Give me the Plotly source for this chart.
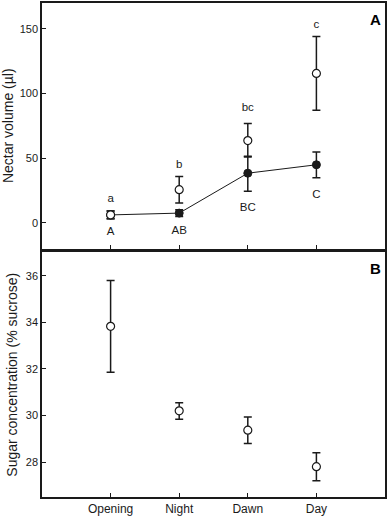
import plotly.graph_objects as go

categories = ["Opening", "Night", "Dawn", "Day"]

# Panel A: nectar volume (µl)
open_vol = [6.0, 25.5, 63.5, 115.5]
open_vol_err_up = [3.0, 10.3, 13.3, 28.5]
open_vol_err_dn = [3.0, 10.2, 12.7, 28.5]
filled_vol = [6.0, 7.4, 38.3, 44.8]
filled_vol_err_up = [3.0, 2.6, 13.2, 9.8]
filled_vol_err_dn = [3.0, 2.6, 14.0, 10.0]
lower_letters = ["a", "b", "bc", "c"]
lower_letter_y = [18, 44.6, 88.6, 153]
upper_letters = ["A", "AB", "BC", "C"]
upper_letter_y = [-7, -6.5, 11.2, 21]

# Panel B: sugar concentration (% sucrose)
sugar = [33.83, 30.2, 29.37, 27.8]
sugar_err_up = [1.97, 0.35, 0.56, 0.6]
sugar_err_dn = [1.97, 0.36, 0.57, 0.6]

FONT = "Liberation Sans, Arial, sans-serif"
INK = "#1a1a1a"

fig = go.Figure()

err_style = dict(type="data", symmetric=False, color=INK, thickness=1.5, width=4)

fig.add_trace(go.Scatter(
    x=categories, y=filled_vol, mode="lines+markers",
    line=dict(color=INK, width=1),
    marker=dict(symbol="circle", size=8, color=INK, line=dict(color=INK, width=1)),
    error_y=dict(array=filled_vol_err_up, arrayminus=filled_vol_err_dn, **err_style),
    xaxis="x", yaxis="y", showlegend=False, hoverinfo="skip"))

fig.add_trace(go.Scatter(
    x=categories, y=open_vol, mode="markers",
    marker=dict(symbol="circle", size=8, color="white", line=dict(color=INK, width=1.2)),
    error_y=dict(array=open_vol_err_up, arrayminus=open_vol_err_dn, **err_style),
    xaxis="x", yaxis="y", showlegend=False, hoverinfo="skip"))

fig.add_trace(go.Scatter(
    x=categories, y=lower_letter_y, mode="text", text=lower_letters,
    textfont=dict(family=FONT, size=11.5, color=INK),
    xaxis="x", yaxis="y", showlegend=False, hoverinfo="skip"))
fig.add_trace(go.Scatter(
    x=categories, y=upper_letter_y, mode="text", text=upper_letters,
    textfont=dict(family=FONT, size=11.5, color=INK),
    xaxis="x", yaxis="y", showlegend=False, hoverinfo="skip"))

fig.add_trace(go.Scatter(
    x=categories, y=sugar, mode="markers",
    marker=dict(symbol="circle", size=8, color="white", line=dict(color=INK, width=1.2)),
    error_y=dict(array=sugar_err_up, arrayminus=sugar_err_dn, **err_style),
    xaxis="x2", yaxis="y2", showlegend=False, hoverinfo="skip"))

axis_common = dict(showline=True, linecolor=INK, linewidth=1.5, mirror=True,
                   ticks="inside", ticklen=4, tickcolor=INK, tickwidth=1,
                   showgrid=False, zeroline=False)
ytick_font = dict(family=FONT, size=11, color=INK)
xtick_font = dict(family=FONT, size=12, color=INK)
title_font = dict(family=FONT, size=14, color=INK)

fig.update_layout(
    width=388, height=517,
    margin=dict(l=42, r=1, t=1, b=17),
    paper_bgcolor="white", plot_bgcolor="white",
    xaxis=dict(domain=[0, 1], anchor="y", type="category", range=[-1, 4],
               showticklabels=False, categoryorder="array", categoryarray=categories,
               tickfont=xtick_font, **axis_common),
    yaxis=dict(domain=[0.503, 1], anchor="x", range=[-20, 170],
               tickvals=[0, 50, 100, 150], tickfont=ytick_font,
               title=dict(text="Nectar volume (µl)", standoff=5, font=title_font),
               **axis_common),
    xaxis2=dict(domain=[0, 1], anchor="y2", type="category", range=[-1, 4],
                categoryorder="array", categoryarray=categories,
                tickfont=xtick_font, **axis_common),
    yaxis2=dict(domain=[0, 0.495], anchor="x2", range=[26.5, 37],
                tickvals=[28, 30, 32, 34, 36], tickfont=ytick_font,
                title=dict(text="Sugar concentration (% sucrose)", standoff=5,
                           font=title_font),
                **axis_common),
    annotations=[
        dict(text="<b>A</b>", x=385, y=7, xref="paper", yref="paper",
             showarrow=False, font=dict(family=FONT, size=15, color="black")),
        dict(text="<b>B</b>", x=385, y=259, xref="paper", yref="paper",
             showarrow=False, font=dict(family=FONT, size=15, color="black")),
    ],
)

# convert pixel anchors for panel letters to paper coordinates
plot_w = 388 - 42 - 1
plot_h = 517 - 1 - 17
for ann in fig.layout.annotations:
    px, py = ann.x, ann.y
    ann.x = (px - 42) / plot_w
    ann.y = 1 - (py - 1) / plot_h
    ann.xanchor = "right"
    ann.yanchor = "top"

fig.write_html(
    "out.html",
    config={"displayModeBar": False},
    post_script="document.body.style.margin='0';document.body.style.overflow='hidden';",
)
